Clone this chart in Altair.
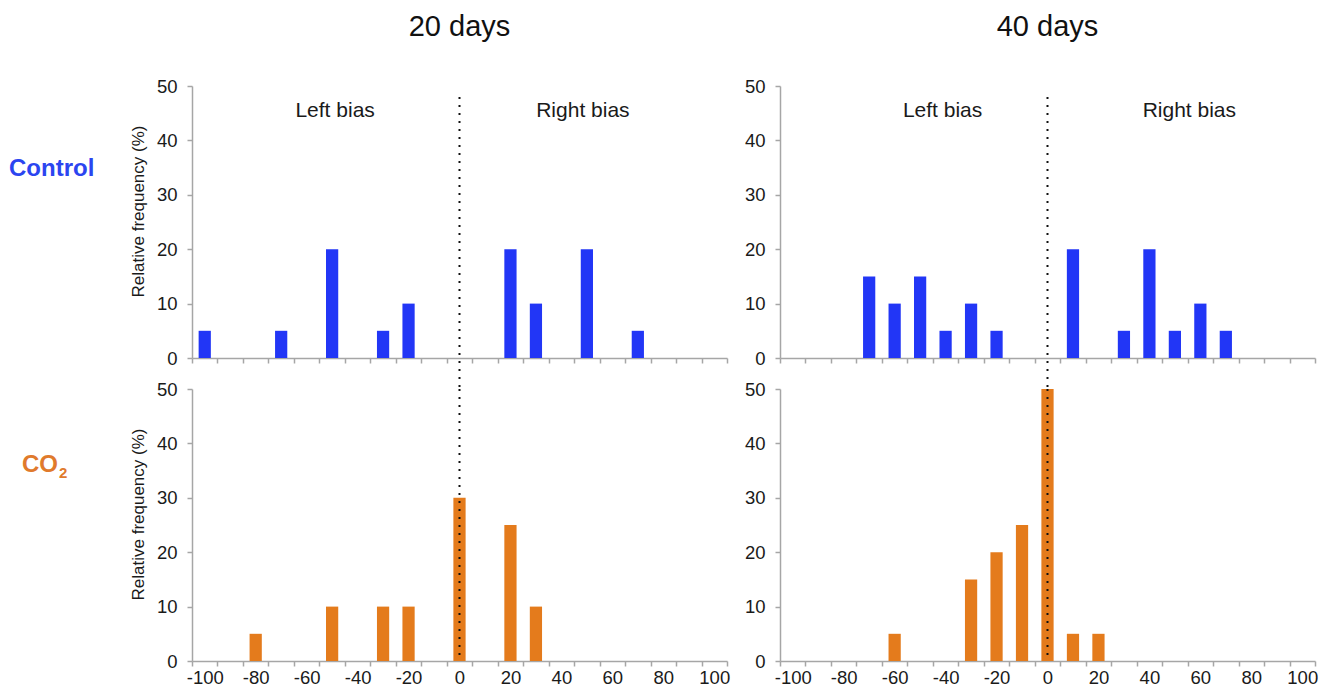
import altair as alt
import pandas as pd

# Side-to-side bias categories (%), one band per 10 %
CATS = list(range(-100, 101, 10))
Y_TICKS = [0, 10, 20, 30, 40, 50]

# 20 days, Control
ctrl20_bins = [-100, -70, -50, -30, -20, 20, 30, 50, 70]
ctrl20_vals = [5, 5, 20, 5, 10, 20, 10, 20, 5]
# 20 days, CO2
co2_20_bins = [-80, -50, -30, -20, 0, 20, 30]
co2_20_vals = [5, 10, 10, 10, 30, 25, 10]
# 40 days, Control
ctrl40_bins = [-70, -60, -50, -40, -30, -20, 10, 30, 40, 50, 60, 70]
ctrl40_vals = [15, 10, 15, 5, 10, 5, 20, 5, 20, 5, 10, 5]
# 40 days, CO2
co2_40_bins = [-60, -30, -20, -10, 0, 10, 20]
co2_40_vals = [5, 15, 20, 25, 50, 5, 5]

BLUE = "#2236f6"
ORANGE = "#e47b1c"
FONT = "Liberation Sans"
AXIS_GREY = "#a6a6a6"
TEXT = "#1a1a1a"

W, H = 535, 272
HSPACE, VSPACE = 53, 31


def panel(bins, vals, color, top, left, title=None, bias_dx=(0, 0, 0, 0)):
    df = pd.DataFrame({"bin": bins, "freq": vals})
    x = alt.X(
        "bin:O",
        title=None,
        scale=alt.Scale(domain=CATS, paddingInner=0, paddingOuter=0),
        axis=alt.Axis(
            labels=not top,
            labelExpr="datum.value % 20 == 0 ? datum.label : ''",
            labelAngle=0,
            labelFont=FONT,
            labelFontSize=18.5,
            labelColor=TEXT,
            labelPadding=2,
            labelOverlap=False,
            labelFlush=False,
            tickBand="extent",
            tickSize=5,
            tickColor=AXIS_GREY,
            tickWidth=1.5,
            domainColor=AXIS_GREY,
            domainWidth=1.5,
            grid=False,
        ),
    )
    y = alt.Y(
        "freq:Q",
        title="Relative frequency (%)" if left else None,
        scale=alt.Scale(domain=[0, 50], nice=False),
        axis=alt.Axis(
            values=Y_TICKS,
            labelFont=FONT,
            labelFontSize=18.5,
            labelColor=TEXT,
            labelPadding=10,
            tickSize=5,
            tickColor=AXIS_GREY,
            tickWidth=1.5,
            domainColor=AXIS_GREY,
            domainWidth=1.5,
            grid=False,
            titleFont=FONT,
            titleFontSize=17,
            titleFontWeight="normal",
            titleColor=TEXT,
            titlePadding=9,
            titleY=125,
        ),
    )
    bars = alt.Chart(df).mark_bar(
        color=color, width=alt.RelativeBandSize(0.48)
    ).encode(x=x, y=y)

    # dotted divider at zero bias, running across the gap between rows
    zero = pd.DataFrame({"bin": [0]})
    if top:
        y_from, y_to = 11, H + VSPACE
    else:
        y_from, y_to = 0, H
    divider = alt.Chart(zero).mark_rule(
        color="#111111", strokeWidth=2, strokeDash=[2, 6]
    ).encode(x=x, y=alt.value(y_from), y2=alt.value(y_to))

    layers = [bars, divider]

    if top:
        lb = pd.DataFrame({"bin": [bias_dx[0]], "t": ["Left bias"]})
        rb = pd.DataFrame({"bin": [bias_dx[2]], "t": ["Right bias"]})
        for d, dx in ((lb, bias_dx[1]), (rb, bias_dx[3])):
            layers.append(
                alt.Chart(d).mark_text(
                    font=FONT, fontSize=21, color=TEXT, baseline="alphabetic",
                    align="center", dx=dx,
                ).encode(x=x, text="t:N", y=alt.value(31))
            )

    if left and top:
        layers.append(
            alt.Chart(pd.DataFrame({"t": ["Control"]})).mark_text(
                font=FONT, fontSize=24, fontWeight="bold", color="#2b45f0",
                align="left", baseline="alphabetic",
            ).encode(text="t:N", x=alt.value(-183), y=alt.value(90))
        )
    if left and not top:
        layers.append(
            alt.Chart(pd.DataFrame({"t": ["CO"]})).mark_text(
                font=FONT, fontSize=24, fontWeight="bold", color="#e07a2c",
                align="left", baseline="alphabetic",
            ).encode(text="t:N", x=alt.value(-170), y=alt.value(83))
        )
        layers.append(
            alt.Chart(pd.DataFrame({"t": ["2"]})).mark_text(
                font=FONT, fontSize=15, fontWeight="bold", color="#e07a2c",
                align="left", baseline="alphabetic",
            ).encode(text="t:N", x=alt.value(-133), y=alt.value(89))
        )

    props = dict(width=W, height=H)
    if title:
        props["title"] = alt.TitleParams(
            title, font=FONT, fontSize=29, fontWeight="normal", color="#111111",
            anchor="middle", baseline="alphabetic", offset=12, frame="group",
        )
    return alt.layer(*layers).properties(**props)


tl = panel(ctrl20_bins, ctrl20_vals, BLUE, top=True, left=True,
           title="20 days", bias_dx=(-50, 3, 50, -4))
tr = panel(ctrl40_bins, ctrl40_vals, BLUE, top=True, left=False,
           title="40 days", bias_dx=(-40, -3, 60, -11))
bl = panel(co2_20_bins, co2_20_vals, ORANGE, top=False, left=True)
br = panel(co2_40_bins, co2_40_vals, ORANGE, top=False, left=False)

chart = alt.concat(
    tl, tr, bl, br, columns=2,
    spacing=alt.RowColnumber(row=VSPACE, column=HSPACE),
    bounds="flush",
).resolve_scale(x="independent", y="independent").properties(
    padding={"left": 9, "top": 13, "right": 5, "bottom": 5},
    background="white",
).configure_view(stroke=None)

chart.save("out.html", embed_options={"renderer": "svg", "actions": False})
